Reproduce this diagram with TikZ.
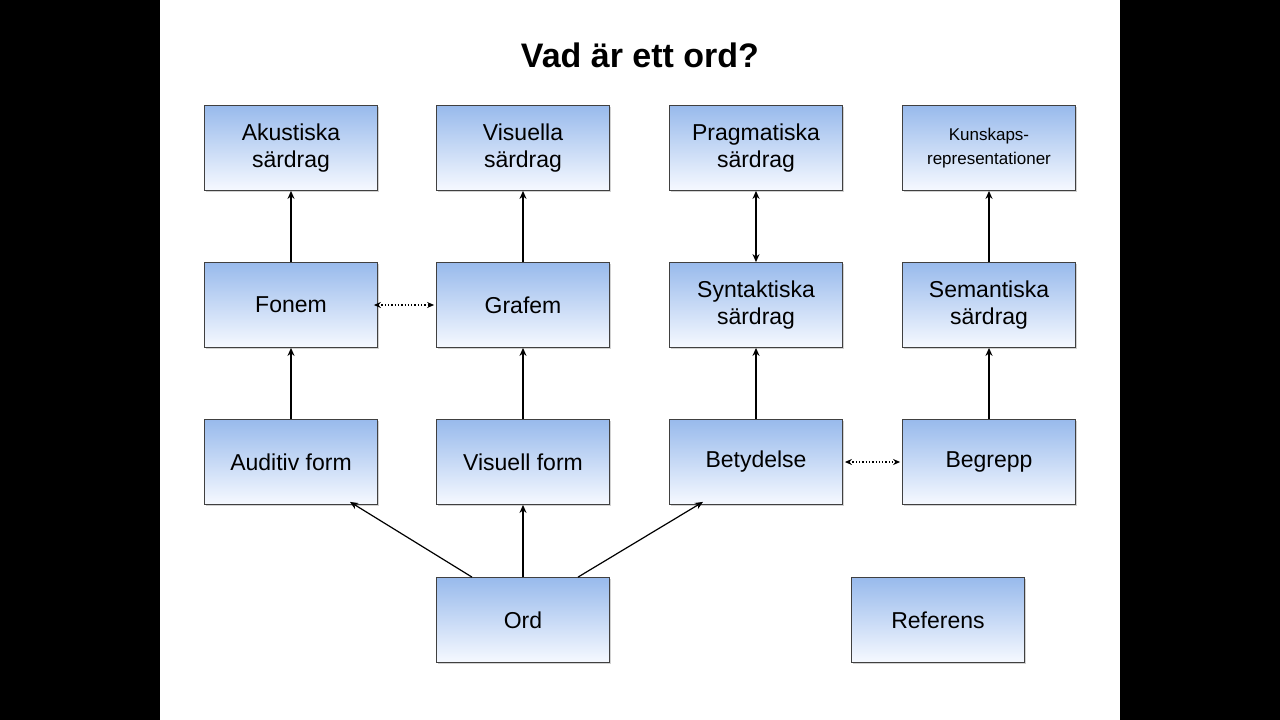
\documentclass[tikz,border=0pt]{standalone}
\usepackage{fontspec}
\setmainfont{Liberation Sans}
\usetikzlibrary{arrows.meta,shadows}
\begin{document}
\begin{tikzpicture}[x=1pt,y=-1pt,
  box/.style={draw=black!75,line width=0.8pt,minimum width=173pt,minimum height=85pt,
    top color={rgb,255:red,152;green,186;blue,236},bottom color={rgb,255:red,246;green,249;blue,255},
    align=center,font=\fontsize{23}{27}\selectfont,inner sep=1pt,
    drop shadow={shadow xshift=1.5pt,shadow yshift=-1.5pt,opacity=0.35}},
  arr/.style={-{Stealth[length=8pt,width=7pt]},line width=1.2pt},
  darr/.style={{Stealth[length=8pt,width=7pt]}-{Stealth[length=8pt,width=7pt]},line width=1.2pt},
  dots/.style={{Stealth[length=7pt,width=6pt]}-{Stealth[length=7pt,width=6pt]},line width=1.3pt,dotted}]
\fill[black] (0,0) rectangle (1280,720);
\fill[white] (160,0) rectangle (1120,720);
\useasboundingbox (0,0) rectangle (1280,720);
\node[font=\bfseries\fontsize{34}{40}\selectfont] (title) at (640,55) {Vad är ett ord?};
\node[box] (ak) at (291,148) {Akustiska\\särdrag};
\node[box] (vi) at (523,148) {Visuella\\särdrag};
\node[box] (pr) at (756,148) {Pragmatiska\\särdrag};
\node[box,font=\fontsize{17}{24}\selectfont] (ku) at (989,148) {Kunskaps-\\representationer};
\node[box] (fo) at (291,305) {Fonem};
\node[box] (gr) at (523,305) {Grafem};
\node[box] (sy) at (756,305) {Syntaktiska\\särdrag};
\node[box] (se) at (989,305) {Semantiska\\särdrag};
\node[box] (au) at (291,462) {Auditiv form};
\node[box] (vf) at (523,462) {Visuell form};
\node[box] (be) at (756,462) {Betydelse};
\node[box] (bg) at (989,462) {Begrepp};
\node[box] (ord) at (523,620) {Ord};
\node[box] (ref) at (938,620) {Referens};
\draw[arr] (fo) -- (ak);
\draw[arr] (gr) -- (vi);
\draw[darr] (sy) -- (pr);
\draw[arr] (se) -- (ku);
\draw[arr] (au) -- (fo);
\draw[arr] (vf) -- (gr);
\draw[arr] (be) -- (sy);
\draw[arr] (bg) -- (se);
\draw[dots] ([xshift=-4pt]fo.east) -- ([xshift=-2pt]gr.west);
\draw[dots] ([xshift=2pt]be.east) -- ([xshift=-2pt]bg.west);
\draw[arr] ([xshift=-51pt]ord.north) -- ([xshift=59pt,yshift=3pt]au.south);
\draw[arr] (ord) -- (vf);
\draw[arr] ([xshift=55pt]ord.north) -- ([xshift=-53pt,yshift=3pt]be.south);
\end{tikzpicture}
\end{document}
